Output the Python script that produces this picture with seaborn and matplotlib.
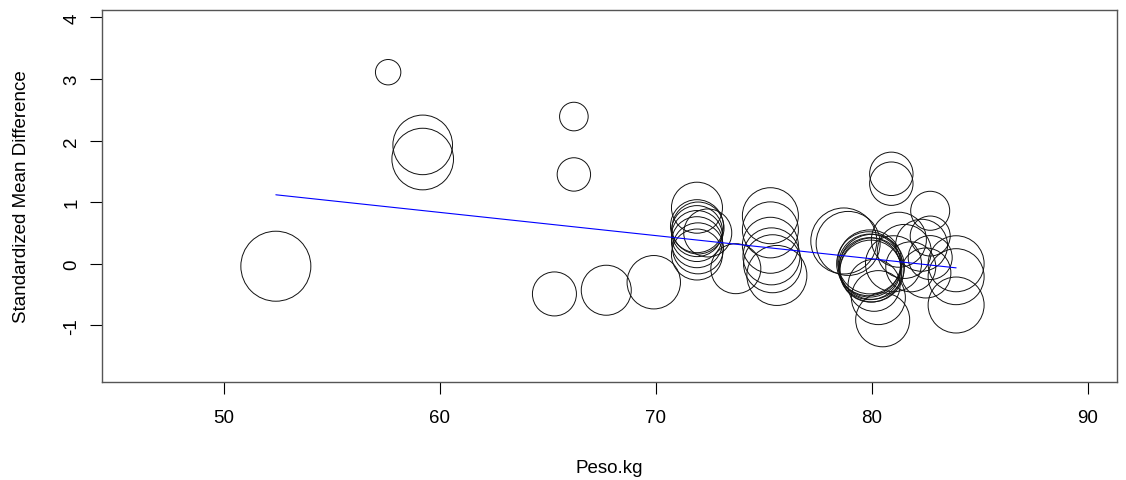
import numpy as np
import pandas as pd
import matplotlib
matplotlib.use("Agg")
import matplotlib.pyplot as plt
import seaborn as sns

# Study-level data: mean body weight (kg), standardized mean difference, precision (1/SE)
peso_kg = [
    52.4, 57.6, 59.2, 59.2, 66.2, 66.2, 65.3, 67.7, 69.9,
    71.9, 71.9, 71.95, 71.9, 71.9, 71.9, 71.95, 71.9, 72.4, 73.7,
    75.3, 75.3, 75.3, 75.35, 75.4, 75.6,
    78.7, 78.9,
    79.9, 79.85, 79.9, 80.0, 79.9, 80.0, 79.95, 80.1, 80.3, 80.5,
    80.9, 80.9, 82.7,
    81.25, 81.5, 82.3, 82.7, 82.7, 81.8, 82.5, 81.0,
    83.9, 83.9, 83.9,
]
smd = [
    -0.04, 3.11, 1.93, 1.70, 2.39, 1.45, -0.49, -0.43, -0.30,
    0.91, 0.61, 0.58, 0.53, 0.45, 0.35, 0.25, 0.15, 0.50, -0.08,
    0.78, 0.55, 0.30, 0.12, 0.00, -0.19,
    0.37, 0.33,
    0.03, 0.00, -0.03, -0.05, -0.08, -0.10, -0.12, -0.35, -0.55, -0.91,
    1.46, 1.30, 0.86,
    0.39, 0.20, 0.30, 0.45, 0.10, -0.05, -0.15, 0.00,
    0.00, -0.21, -0.67,
]
precision = [
    3.50, 1.27, 2.98, 3.08, 1.43, 1.67, 2.20, 2.50, 2.67,
    2.55, 2.65, 2.60, 2.55, 2.55, 2.55, 2.55, 2.55, 2.40, 2.50,
    2.80, 2.80, 2.80, 2.85, 2.90, 3.00,
    3.30, 3.20,
    3.20, 3.20, 3.15, 3.25, 3.10, 3.20, 3.10, 2.60, 2.70, 2.70,
    2.17, 2.17, 1.95,
    2.75, 2.70, 2.60, 2.00, 2.20, 2.50, 2.50, 2.80,
    2.80, 2.80, 2.80,
]

# Meta-regression fit: SMD = b0 + b1 * Peso.kg
b0, b1 = 3.093, -0.03766

x_ticks = [50, 60, 70, 80, 90]
y_ticks = [-1, 0, 1, 2, 3, 4]

df = pd.DataFrame({"Peso.kg": peso_kg, "SMD": smd, "precision": precision})
df["area"] = df["precision"] ** 2

sns.set_style("white")
plt.rcParams["font.family"] = ["Liberation Sans", "DejaVu Sans"]

fig = plt.figure(figsize=(11.26, 4.81), dpi=100)
ax = fig.add_axes([102 / 1126, 1 - 383 / 481, (1117 - 102) / 1126, (383 - 11) / 481])

# marker area proportional to precision^2 (k points^2 per unit)
k = 207.36
amin, amax = df["area"].min(), df["area"].max()
sns.scatterplot(
    data=df, x="Peso.kg", y="SMD", size="area",
    sizes=(k * amin, k * amax), size_norm=(amin, amax),
    marker="o", facecolors="none", edgecolor="black", linewidth=0.7,
    legend=False, ax=ax, zorder=2,
)
for coll in ax.collections:
    coll.set_facecolor("none")
    coll.set_edgecolor("#111111")

xs = np.array([min(peso_kg), max(peso_kg)])
sns.lineplot(x=xs, y=b0 + b1 * xs, color="#0000FF", linewidth=0.8, ax=ax, zorder=3)

ax.set_xlim(44.35, 91.35)
ax.set_ylim(-1.92, 4.12)
ax.set_xticks(x_ticks)
ax.set_yticks(y_ticks)
ax.set_xticklabels([str(v) for v in x_ticks])
ax.set_yticklabels([str(v) for v in y_ticks], rotation=90, va="center")

ax.tick_params(axis="both", which="major", direction="out", length=8.5,
               width=0.8, color="black", labelsize=13.5, labelcolor="black",
               bottom=True, left=True, top=False, right=False)
ax.tick_params(axis="x", pad=11)
ax.tick_params(axis="y", pad=7)

for sp in ax.spines.values():
    sp.set_visible(True)
    sp.set_color("#555555")
    sp.set_linewidth(1.0)

ax.set_xlabel("Peso.kg", fontsize=13.5, labelpad=24, color="black")
ax.set_ylabel("Standardized Mean Difference", fontsize=13.5, labelpad=24, color="black")

fig.savefig("out.png", dpi=100, facecolor="white")
